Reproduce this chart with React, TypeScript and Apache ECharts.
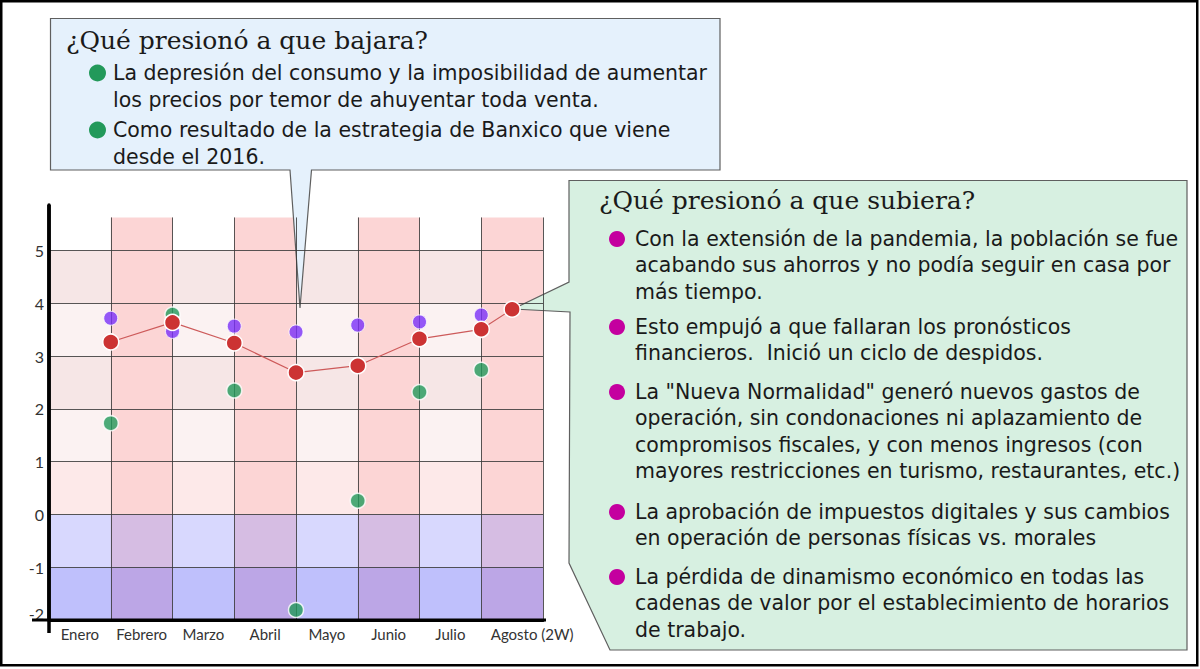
import React, { useEffect, useRef } from "react";
import * as echarts from "echarts";

// ---------- data ----------
const months = ["Enero", "Febrero", "Marzo", "Abril", "Mayo", "Junio", "Julio", "Agosto (2W)"];
const pointX = [1, 2, 3, 4, 5, 6, 7, 7.5];
const redValues = [3.27, 3.64, 3.25, 2.69, 2.82, 3.33, 3.51, 3.89];
const purpleValues = [3.72, 3.47, 3.57, 3.46, 3.59, 3.65, 3.78];
const greenValues = [1.73, 3.79, 2.35, -1.81, 0.26, 2.32, 2.74];
const gridValues = [5, 4, 3, 2, 1, 0, -1];

const blueTitle = "¿Qué presionó a que bajara?";
const blueBullets = [
  ["La depresión del consumo y la imposibilidad de aumentar", "los precios por temor de ahuyentar toda venta."],
  ["Como resultado de la estrategia de Banxico que viene", "desde el 2016."],
];
const greenTitle = "¿Qué presionó a que subiera?";
const greenBullets = [
  ["Con la extensión de la pandemia, la población se fue", "acabando sus ahorros y no podía seguir en casa por", "más tiempo."],
  ["Esto empujó a que fallaran los pronósticos", "financieros.  Inició un ciclo de despidos."],
  [
    "La \"Nueva Normalidad\" generó nuevos gastos de",
    "operación, sin condonaciones ni aplazamiento de",
    "compromisos fiscales, y con menos ingresos (con",
    "mayores restricciones en turismo, restaurantes, etc.)",
  ],
  ["La aprobación de impuestos digitales y sus cambios", "en operación de personas físicas vs. morales"],
  ["La pérdida de dinamismo económico en todas las", "cadenas de valor por el establecimiento de horarios", "de trabajo."],
];

// ---------- decoration ----------
const TOP = 5.63;
const rowBands = [
  { from: 4, to: 5, color: "#f6e6e6" },
  { from: 3, to: 4, color: "#fbf2f2" },
  { from: 2, to: 3, color: "#f6e6e6" },
  { from: 1, to: 2, color: "#fbf2f2" },
  { from: 0, to: 1, color: "#fde9e9" },
  { from: -1, to: 0, color: "#d8d8fe" },
  { from: -2, to: -1, color: "#bfc0fc" },
];
const colBands = [
  { from: 0, to: TOP, color: "#fcd5d5" },
  { from: -1, to: 0, color: "#d6bde3" },
  { from: -2, to: -1, color: "#bca6e6" },
];

const SANS = '"DejaVu Sans", sans-serif';
const SERIF = '"DejaVu Serif", serif';
const BODY_SIZE = 20.5;

function paragraph(x: number, firstY: number, lh: number, lines: string[]) {
  return {
    type: "text",
    z: 4,
    x,
    y: firstY - lh / 2,
    style: {
      text: lines.join("\n"),
      fontFamily: SANS,
      fontSize: BODY_SIZE,
      lineHeight: lh,
      fill: "#1a1a1a",
      verticalAlign: "top",
      align: "left",
    },
  };
}

function buildGraphic() {
  const els: any[] = [];
  // outer frame
  els.push({
    type: "rect",
    z: 10,
    shape: { x: 1.25, y: 1.25, width: 1196, height: 664 },
    style: { fill: "none", stroke: "#000", lineWidth: 2.5 },
  });
  // axis extensions
  els.push({ type: "line", z: 6, shape: { x1: 32, y1: 620, x2: 546, y2: 620 }, style: { stroke: "#000", lineWidth: 3 } });
  els.push({ type: "line", z: 6, shape: { x1: 49, y1: 205, x2: 49, y2: 633 }, style: { stroke: "#000", lineWidth: 3.5 } });

  // blue callout
  els.push({
    type: "polygon",
    z: 3,
    shape: {
      points: [
        [50.5, 18.5], [720, 18.5], [720, 170], [311.5, 170], [300, 308], [290, 170], [50.5, 170],
      ],
    },
    style: { fill: "#e5f1fc", stroke: "#5f5f5f", lineWidth: 1.2 },
  });
  els.push({
    type: "text", z: 4, x: 66, y: 40,
    style: { text: blueTitle, fontFamily: SERIF, fontSize: 25, lineHeight: 28, fill: "#1a1a1a", verticalAlign: "middle" },
  });
  const blueFirst = [73, 130];
  blueBullets.forEach((lines, bi) => {
    els.push({ type: "circle", z: 4, shape: { cx: 97.5, cy: blueFirst[bi], r: 8.5 }, style: { fill: "#22995a" } });
    els.push(paragraph(113, blueFirst[bi], 27, lines));
  });

  // green callout
  els.push({
    type: "polygon",
    z: 3,
    shape: {
      points: [
        [569, 180.5], [1187, 180.5], [1187, 650], [610, 650], [569, 563], [570, 312], [513, 309], [569, 282],
      ],
    },
    style: { fill: "#d7f0e1", stroke: "#5f5f5f", lineWidth: 1.2 },
  });
  els.push({
    type: "text", z: 4, x: 599, y: 200,
    style: { text: greenTitle, fontFamily: SERIF, fontSize: 25, lineHeight: 28, fill: "#1a1a1a", verticalAlign: "middle" },
  });
  const greenFirst = [239, 327, 392, 512, 577];
  greenBullets.forEach((lines, bi) => {
    els.push({ type: "circle", z: 4, shape: { cx: 617, cy: greenFirst[bi], r: 8 }, style: { fill: "#c4009f" } });
    els.push(paragraph(635, greenFirst[bi], 26.3, lines));
  });
  return els;
}

export default function App() {
  const ref = useRef<HTMLDivElement>(null);
  useEffect(() => {
    if (!ref.current) return;
    const chart = echarts.init(ref.current, undefined, { renderer: "svg" });

    const areas: any[] = [];
    rowBands.forEach((b) => {
      areas.push([{ coord: [0, b.to], itemStyle: { color: b.color } }, { coord: [8, b.from] }]);
    });
    for (let i = 1; i < 8; i += 2) {
      colBands.forEach((b) => {
        areas.push([{ coord: [i, b.to], itemStyle: { color: b.color } }, { coord: [i + 1, b.from] }]);
      });
    }
    const lines: any[] = [];
    gridValues.forEach((v) => {
      lines.push([{ coord: [0, v] }, { coord: [8, v] }]);
    });
    for (let i = 1; i <= 8; i++) {
      lines.push([{ coord: [i, -2] }, { coord: [i, TOP] }]);
    }

    const option: any = {
      animation: false,
      backgroundColor: "#ffffff",
      grid: { left: 49, top: 205, width: 494, height: 415 },
      xAxis: [
        {
          type: "category",
          data: months.map((m, i) =>
            i === months.length - 1 ? { value: m, textStyle: { padding: [0, 0, 0, 40] } } : m
          ),
          boundaryGap: true,
          z: 5,
          axisLine: { show: true, onZero: false, lineStyle: { color: "#000", width: 3 } },
          axisTick: { show: false },
          splitLine: { show: false },
          axisLabel: { color: "#333", fontFamily: "Lato", fontSize: 15, margin: 6, interval: 0 },
        },
        { type: "value", min: 0, max: 8, show: false },
      ],
      yAxis: {
        type: "value",
        min: -2,
        max: 5.866,
        interval: 1,
        z: 5,
        axisLine: { show: true, lineStyle: { color: "#000", width: 3.5 } },
        axisTick: { show: false },
        splitLine: { show: false },
        axisLabel: {
          color: "#333",
          fontFamily: "Lato",
          fontSize: 16,
          margin: 5,
          formatter: (v: number) => {
            if (Math.abs(v - Math.round(v)) > 1e-6) return "";
            return v === -2 ? "{low|-2}" : String(v);
          },
          rich: {
            low: { color: "#333", fontFamily: "Lato", fontSize: 16, padding: [0, 0, 14, 0] },
          },
        },
      },
      graphic: buildGraphic(),
      series: [
        {
          type: "line",
          xAxisIndex: 1,
          data: [],
          silent: true,
          z: 1,
          markArea: { silent: true, data: areas },
          markLine: {
            silent: true,
            symbol: "none",
            label: { show: false },
            lineStyle: { color: "#3a3a3a", width: 1, type: "solid", opacity: 0.85 },
            data: lines,
          },
        },
        {
          type: "scatter",
          xAxisIndex: 1,
          z: 5,
          symbolSize: 14,
          itemStyle: { color: "#7b2ff7", borderColor: "#ffffff", borderWidth: 1 },
          data: purpleValues.map((v, i) => [pointX[i], v]),
        },
        {
          type: "scatter",
          xAxisIndex: 1,
          z: 5,
          symbolSize: 15,
          itemStyle: { color: "#22995a", borderColor: "#ffffff", borderWidth: 1.5 },
          data: greenValues.map((v, i) => [pointX[i], v]),
        },
        {
          type: "line",
          xAxisIndex: 1,
          z: 6,
          symbol: "circle",
          symbolSize: 16,
          lineStyle: { color: "#cd5a5a", width: 1.2 },
          itemStyle: { color: "#cc3333", borderColor: "#ffffff", borderWidth: 1.5 },
          data: redValues.map((v, i) => [pointX[i], v]),
        },
      ],
    };
    chart.setOption(option);
    return () => chart.dispose();
  }, []);
  return (
    <div
      ref={ref}
      style={{ position: "absolute", left: 0, top: 0, width: 1200, height: 669, background: "#fff" }}
    />
  );
}
